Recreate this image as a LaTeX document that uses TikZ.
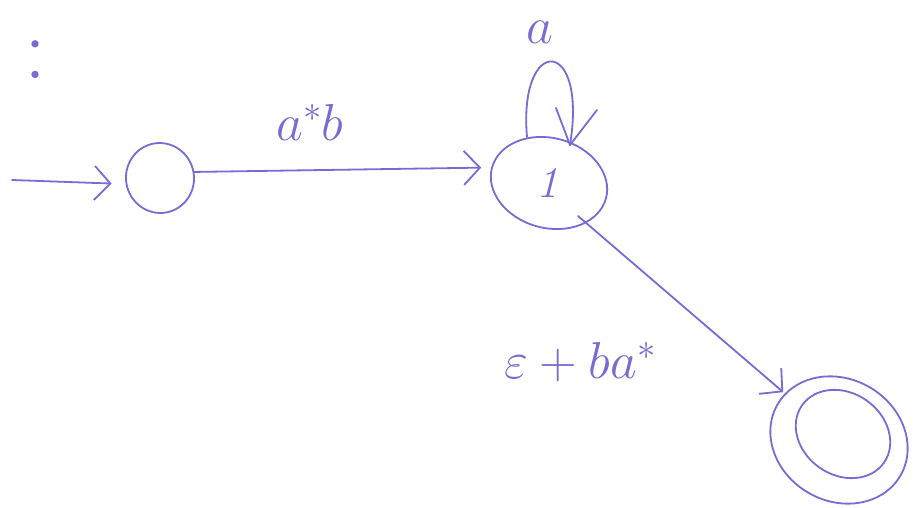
\RequirePackage{fix-cm}
\documentclass[tikz,border=0pt]{standalone}
\usetikzlibrary{arrows.meta,shapes.geometric}
\definecolor{pen}{RGB}{118,108,212}
\tikzset{
  ink/.style={draw=pen, line width=1.8pt, line cap=round, line join=round},
  state/.style={ink, ellipse, inner sep=0pt},
  lbl/.style={text=pen, inner sep=0pt, font=\fontsize{52}{56}\selectfont},
  tip/.style={-{Straight Barb[length=16pt,width=34pt,line width=1.8pt]}}
}
\begin{document}
\begin{tikzpicture}[x=1pt,y=-1pt]
\useasboundingbox (0,0) rectangle (914,508);
% colon at top left
\node[lbl, font=\fontsize{88}{90}\selectfont] (colon) at (35,60) {:};
% partial ellipse at top
\draw[ink, line width=1.4pt] (622,-2) arc[start angle=200, end angle=340, x radius=40, y radius=10];
% states
\node[state, minimum width=68pt, minimum height=70pt, rotate=10] (q0) at (160,178) {};
\node[state, minimum width=118pt, minimum height=90pt, rotate=-15] (q1) at (549,183) {};
\node[lbl, font=\fontsize{44}{48}\selectfont] (one) at (550,183) {$\mathit{1}$};
\node[state, minimum width=142pt, minimum height=122pt, rotate=-30] (q2) at (839,440) {};
\node[state, minimum width=100pt, minimum height=82pt, rotate=-35] (q2in) at (843,434) {};
% start
\coordinate (s) at (12,180);
\draw[ink, tip, shorten >=14pt] (s) -- (q0.west);
% 0 -> 1
\draw[ink, tip, shorten >=10pt] (q0.east) -- (q1.west);
\node[lbl] (l01) at (310,122) {$a^{*}b$};
% self loop
\coordinate (lp1) at (527,137);
\draw[ink] (lp1) .. controls (518,35) and (588,35) .. (570,145);
\draw[ink] (556,108) -- (570,145) -- (597,110);
\node[lbl] (la) at (540,32) {$a$};
% 1 -> 2
\coordinate (e1) at (578,216);
\draw[ink, tip, shorten >=2pt] (e1) -- (q2);
\node[lbl] (l12) at (580,362) {$\varepsilon + ba^{*}$};
\end{tikzpicture}
\end{document}
